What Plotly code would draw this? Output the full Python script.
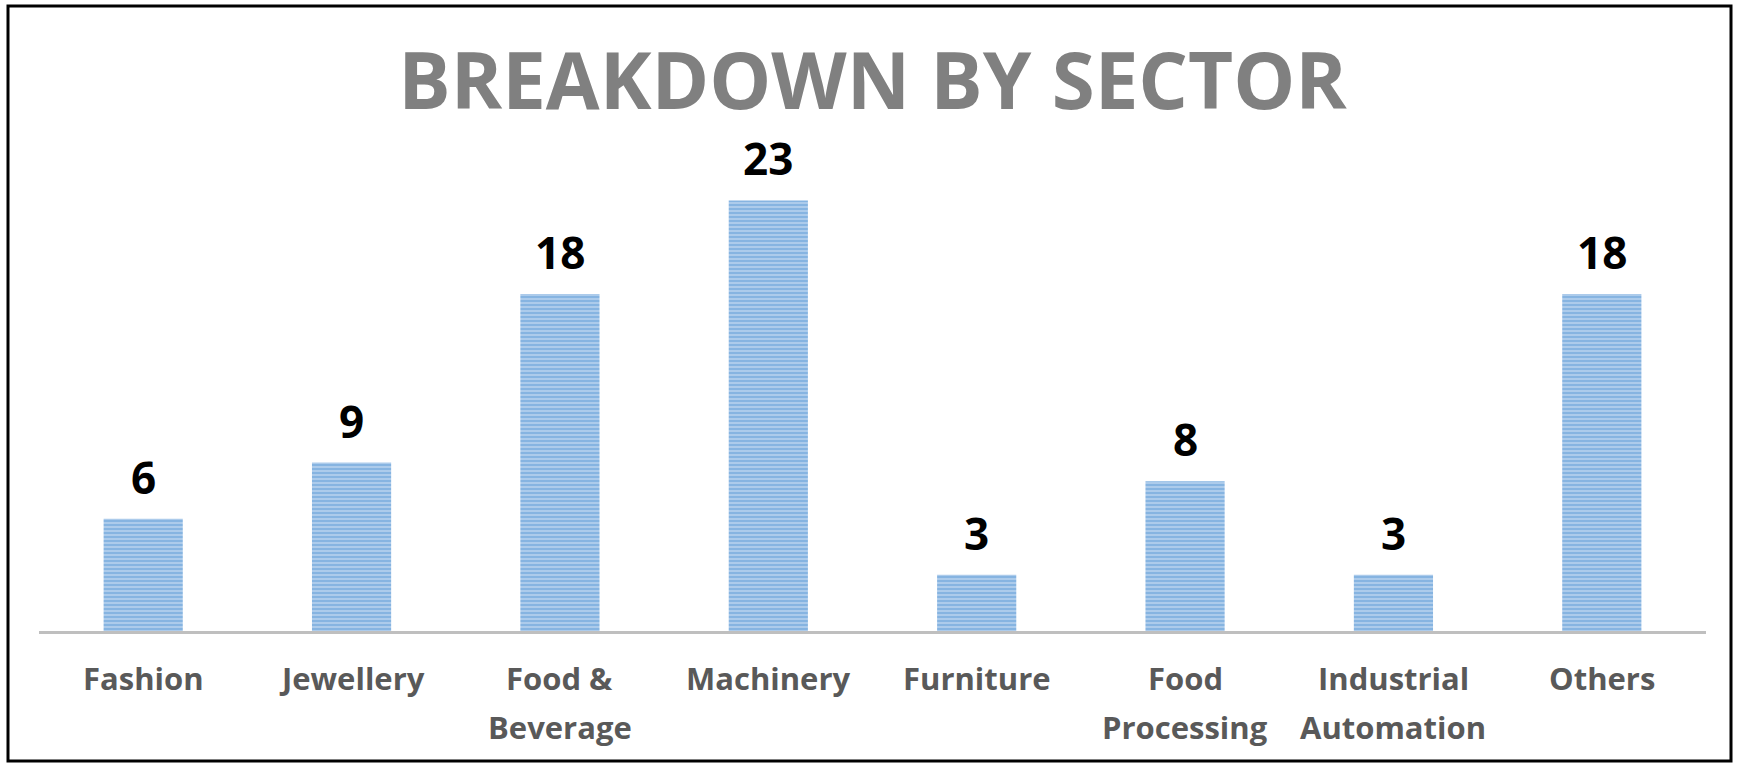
import plotly.graph_objects as go

categories = ["Fashion", "Jewellery", "Food &<br>Beverage", "Machinery", "Furniture",
              "Food<br>Processing", "Industrial<br>Automation", "Others"]
values = [6, 9, 18, 23, 3, 8, 3, 18]
title_text = "BREAKDOWN BY SECTOR"

W, H = 1737, 765
ml, mr, mt, mb = 39, 31, 163, 134
pw, ph = W - ml - mr, H - mt - mb

fig = go.Figure()
fig.add_trace(go.Bar(
    x=categories, y=values,
    marker=dict(color="#a9c8ea",
                line=dict(width=0),
                pattern=dict(shape="-", fgcolor="#5b9bd5", bgcolor="#b0cdec", size=4, solidity=0.55)),
    showlegend=False, hoverinfo="skip",
))
for c, v in zip(categories, values):
    fig.add_annotation(x=c, y=v, text=f"<b>{v}</b>", showarrow=False, yanchor="bottom",
                       yshift=10, font=dict(family="Open Sans", size=44, color="#000000"))
    for i, line in enumerate(c.split("<br>")):
        fig.add_annotation(x=c, y=0, text=f"<b>{line}</b>", showarrow=False, yanchor="middle",
                           yshift=-47 - 49 * i,
                           font=dict(family="Open Sans", size=31, color="#595959"))

def px_x(x):
    return (x - ml) / pw

def px_y(y):
    return (H - mb - y) / ph

fig.add_shape(type="rect", xref="paper", yref="paper",
              x0=px_x(8), x1=px_x(1731), y0=px_y(761), y1=px_y(6),
              line=dict(color="#000000", width=3), fillcolor="rgba(0,0,0,0)", layer="above")

fig.update_layout(
    width=W, height=H,
    margin=dict(l=ml, r=mr, t=mt, b=mb),
    paper_bgcolor="white", plot_bgcolor="white",
    bargap=0.62,
    title=dict(text=f"<b>{title_text}</b>", x=0.5, xref="paper", xanchor="center",
               y=1 - 109 / H, yref="container", yanchor="bottom",
               font=dict(family="Open Sans", size=78, color="#808080")),
    xaxis=dict(showline=True, linecolor="#bfbfbf", linewidth=3, showgrid=False,
               showticklabels=False, ticks=""),
    yaxis=dict(range=[0, 25], visible=False, showgrid=False, zeroline=False),
)
fig.write_html("out.html", config={"displayModeBar": False},
               post_script="document.body.style.margin='0';document.body.style.overflow='hidden';")
